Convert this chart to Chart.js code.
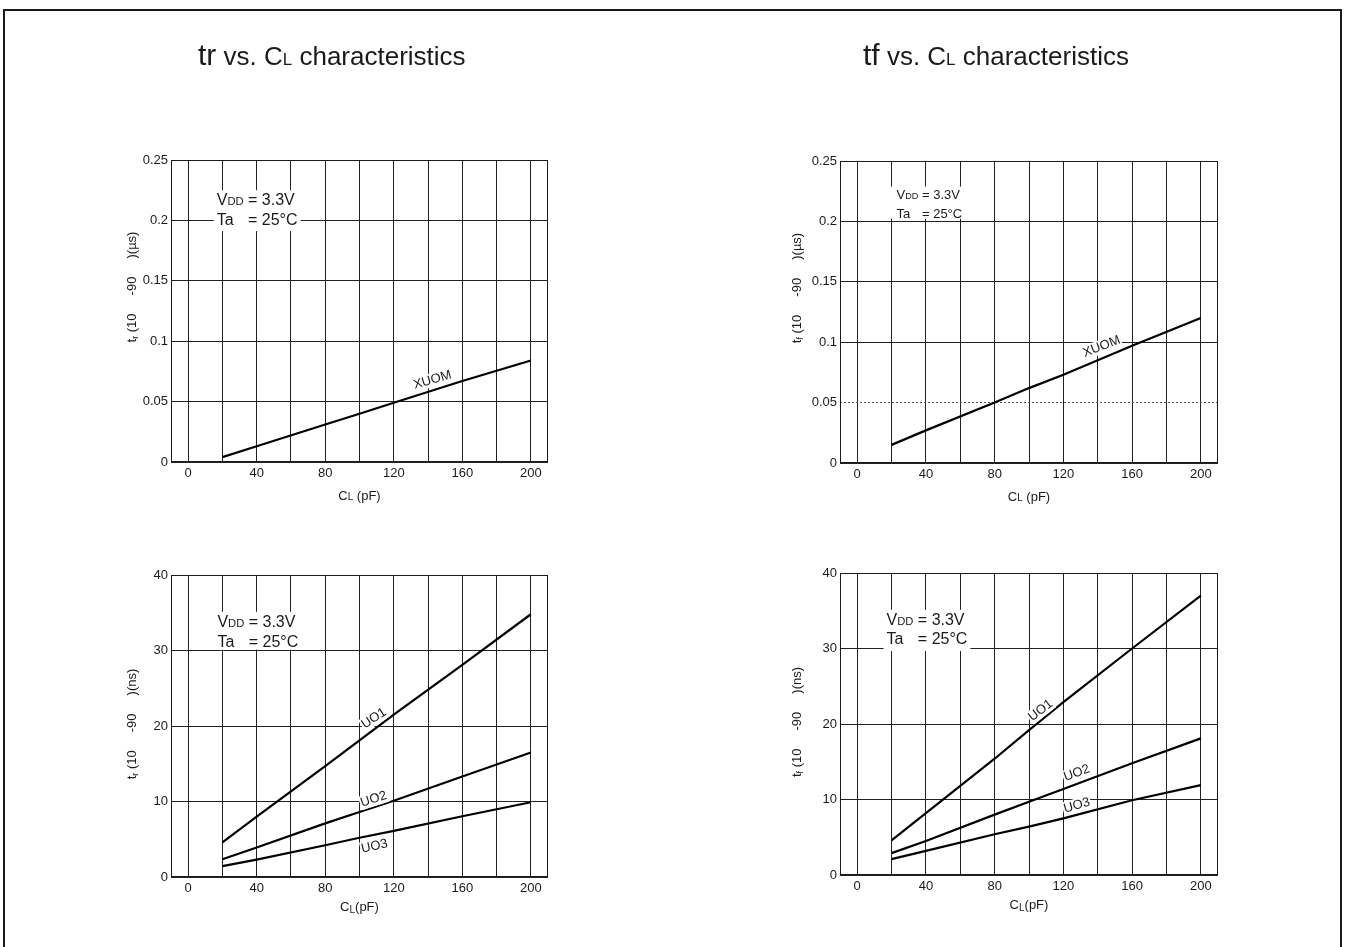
<!DOCTYPE html>
<html>
<head>
<meta charset="utf-8">
<title>tr / tf vs. CL characteristics</title>
<script src="https://cdn.jsdelivr.net/npm/chart.js@4.4.1/dist/chart.umd.min.js"></script>
<style>
  body { margin: 0; background: #fff; width: 1348px; height: 947px; overflow: hidden; position: relative; }
  .sheet { position: absolute; left: 3px; top: 9px; width: 1335px; height: 980px; border: 2px solid #1a1a1a; }
  canvas { position: absolute; }
</style>
</head>
<body>
<div class="sheet"></div>
<canvas id="riseUs" width="470" height="500" style="left:100px;top:20px"></canvas>
<canvas id="fallUs" width="470" height="500" style="left:770px;top:20px"></canvas>
<canvas id="riseNs" width="470" height="400" style="left:100px;top:540px"></canvas>
<canvas id="fallNs" width="470" height="400" style="left:770px;top:540px"></canvas>
<script>
// Load capacitance CL (pF)
const capLoad = [20, 40, 80, 100, 120, 160, 200];

// Rise / fall time of the XUOM output (µs)
const riseXuom = [0.004, 0.013, 0.031, 0.040, 0.049, 0.067, 0.084];
const fallXuom = [0.015, 0.027, 0.050, 0.062, 0.073, 0.097, 0.120];

// Rise time of UO1..UO3 (ns)
const riseUo1 = [4.6, 8.0, 14.7, 18.1, 21.5, 28.1, 34.8];
const riseUo2 = [2.35, 3.9, 7.1, 8.6, 10.1, 13.3, 16.5];
const riseUo3 = [1.45, 2.3, 4.2, 5.2, 6.1, 8.05, 9.9];

// Fall time of UO1..UO3 (ns)
const fallUo1 = [4.6, 8.2, 15.4, 19.2, 22.9, 30.0, 37.0];
const fallUo2 = [2.9, 4.5, 8.0, 9.7, 11.4, 14.8, 18.1];
const fallUo3 = [2.1, 3.2, 5.4, 6.4, 7.5, 9.9, 11.9];

// Axis ticks
const xGrid = [0, 20, 40, 60, 80, 100, 120, 140, 160, 180, 200];
const xLabels = [0, 40, 80, 120, 160, 200];
const usTicks = [0, 0.05, 0.1, 0.15, 0.2, 0.25];
const nsTicks = [0, 10, 20, 30, 40];

const FONT = '"Liberation Sans", Arial, sans-serif';
const INK = '#1a1a1a';
const GRID = '#222';

function seg(t, s, dy) {
  return { t: t, s: s, dy: dy || 0 };
}

function richWidth(ctx, segs) {
  let w = 0;
  segs.forEach(g => {
    ctx.font = `${g.s}px ${FONT}`;
    w += ctx.measureText(g.t).width;
  });
  return w;
}

function drawRich(ctx, segs, x, y) {
  segs.forEach(g => {
    ctx.font = `${g.s}px ${FONT}`;
    ctx.fillText(g.t, x, y + g.dy);
    x += ctx.measureText(g.t).width;
  });
  return x;
}

// Frame, axis titles, condition note and curve names
const decor = {
  id: 'decor',
  afterDatasetsDraw(chart, args, o) {
    const { ctx, chartArea: a, scales: { x, y } } = chart;
    ctx.save();
    ctx.fillStyle = INK;
    ctx.textBaseline = 'alphabetic';

    // VDD / Ta note with a white box behind it
    const n = o.note;
    if (n) {
      const x0 = x.getPixelForValue(n.x);
      const b1 = y.getPixelForValue(n.y);
      const b2 = b1 + n.lh;
      const head = [seg('V', n.size), seg('DD', n.size * 0.7), seg(' ', n.size)];
      const eqX = x0 + richWidth(ctx, head);
      const w1 = richWidth(ctx, head.concat([seg('= 3.3V', n.size)]));
      ctx.font = `${n.size}px ${FONT}`;
      const w2 = eqX - x0 + ctx.measureText('= 25°C').width;
      const right = x0 + Math.max(w1, w2);
      ctx.fillStyle = '#fff';
      ctx.fillRect(x0 - n.padLeft, b1 - n.size * 0.8 - 2, right - x0 + n.padLeft + 3, b2 - b1 + n.size * 0.8 + 2 + n.pad);
      ctx.fillStyle = INK;
      drawRich(ctx, head.concat([seg('= 3.3V', n.size)]), x0, b1);
      ctx.font = `${n.size}px ${FONT}`;
      ctx.fillText('Ta', x0, b2);
      ctx.fillText('= 25°C', eqX, b2);
    }

    // curve names along the lines
    (o.tags || []).forEach(t => {
      const px = x.getPixelForValue(t.x);
      const py = y.getPixelForValue(t.y);
      ctx.save();
      ctx.translate(px, py);
      ctx.rotate(t.rot * Math.PI / 180);
      ctx.font = `13px ${FONT}`;
      const w = ctx.measureText(t.text).width;
      ctx.fillStyle = '#fff';
      ctx.fillRect(-w / 2 - 1, -7, w + 2, 14);
      ctx.fillStyle = INK;
      ctx.textAlign = 'center';
      ctx.textBaseline = 'middle';
      ctx.fillText(t.text, 0, 0);
      ctx.restore();
    });
    ctx.restore();
  },
  afterDraw(chart, args, o) {
    const { ctx, chartArea: a } = chart;
    ctx.save();
    ctx.strokeStyle = INK;
    ctx.lineWidth = 1;
    ctx.strokeRect(Math.round(a.left) + 0.5, Math.round(a.top) + 0.5,
      Math.round(a.right - a.left) - 1, Math.round(a.bottom - a.top) - 1);

    ctx.fillStyle = INK;
    ctx.textBaseline = 'alphabetic';

    // x axis title
    const xs = o.xTitle;
    ctx.font = `13px ${FONT}`;
    const xw = richWidth(ctx, xs.segs);
    drawRich(ctx, xs.segs, (a.left + a.right) / 2 - xw / 2, a.bottom + xs.gap);

    // y axis title, rotated
    const ys = o.yTitle;
    const yw = richWidth(ctx, ys.segs);
    ctx.save();
    ctx.translate(a.left + ys.dx, (a.top + a.bottom) / 2 + ys.dy);
    ctx.rotate(-Math.PI / 2);
    drawRich(ctx, ys.segs, -yw / 2, 4);
    ctx.restore();

    // page heading above the top charts
    if (o.heading) {
      drawRich(ctx, o.heading.segs, o.heading.x, o.heading.y);
    }
    ctx.restore();
  }
};

function lineSet(values) {
  return {
    data: capLoad.map((c, i) => ({ x: c, y: values[i] })),
    borderColor: '#000',
    borderWidth: 2.2,
    pointRadius: 0,
    tension: 0,
    fill: false
  };
}

function makeChart(id, cfg) {
  const yTicks = cfg.yTicks;
  return new Chart(document.getElementById(id), {
    type: 'line',
    data: { datasets: cfg.series.map(lineSet) },
    plugins: [decor],
    options: {
      responsive: false,
      animation: false,
      events: [],
      layout: { padding: { left: 0, right: 22, top: cfg.padTop, bottom: cfg.padBottom } },
      scales: {
        x: {
          type: 'linear',
          min: -10,
          max: 210,
          afterBuildTicks: s => { s.ticks = xGrid.map(v => ({ value: v })); },
          afterFit: s => { s.height = 30; },
          grid: { color: GRID, lineWidth: 1, drawTicks: false },
          border: { display: false },
          ticks: {
            padding: 4,
            color: INK,
            autoSkip: false,
            maxRotation: 0,
            font: { family: FONT, size: 13 },
            callback: v => xLabels.includes(v) ? String(v) : ''
          }
        },
        y: {
          type: 'linear',
          min: yTicks[0],
          max: yTicks[yTicks.length - 1],
          afterBuildTicks: s => { s.ticks = yTicks.map(v => ({ value: v })); },
          afterFit: s => { s.width = cfg.yWidth; },
          grid: {
            color: c => (c.tick && c.tick.value === cfg.dashAt) ? '#555' : GRID,
            lineWidth: 1,
            drawTicks: false
          },
          border: {
            display: false,
            dash: c => (c.tick && c.tick.value === cfg.dashAt) ? [2, 2] : []
          },
          ticks: {
            padding: 3,
            color: INK,
            font: { family: FONT, size: 13 },
            callback: v => String(v)
          }
        }
      },
      plugins: {
        legend: { display: false },
        tooltip: { enabled: false },
        decor: {
          note: cfg.note,
          tags: cfg.tags,
          xTitle: cfg.xTitle,
          yTitle: cfg.yTitle,
          heading: cfg.heading
        }
      }
    }
  });
}

function yTitleSegs(sub, unit) {
  return [seg('t', 13), seg(sub, 9, 2), seg(' (10     -90     )(' + unit + ')', 13)];
}

const xTitleTop = { segs: [seg('C', 13), seg('L', 10), seg(' (pF)', 13)], gap: 38 };
const xTitleBottom = { segs: [seg('C', 13), seg('L', 10, 2), seg('(pF)', 13)], gap: 34 };

makeChart('riseUs', {
  series: [riseXuom],
  yTicks: usTicks,
  yWidth: 71, padTop: 140, padBottom: 28,
  note: { x: 16.7, y: 0.2127, size: 16, lh: 20, pad: 6, padLeft: 3 },
  tags: [{ text: 'XUOM', x: 142.6, y: 0.0679, rot: -16 }],
  xTitle: xTitleTop,
  yTitle: { segs: yTitleSegs('r', 'µs'), dx: -39, dy: -24 },
  heading: { x: 98, y: 45, segs: [seg('tr', 30), seg(' vs. C', 26), seg('L', 17), seg(' characteristics', 26)] }
});

makeChart('fallUs', {
  series: [fallXuom],
  yTicks: usTicks,
  dashAt: 0.05,
  yWidth: 70, padTop: 141, padBottom: 27,
  note: { x: 22.9, y: 0.2186, size: 13, lh: 18.7, pad: 1, padLeft: 7 },
  tags: [{ text: 'XUOM', x: 142.3, y: 0.0964, rot: -21 }],
  xTitle: xTitleTop,
  yTitle: { segs: yTitleSegs('f', 'µs'), dx: -43, dy: -24 },
  heading: { x: 93, y: 45, segs: [seg('tf', 30), seg(' vs. C', 26), seg('L', 17), seg(' characteristics', 26)] }
});

makeChart('riseNs', {
  series: [riseUo1, riseUo2, riseUo3],
  yTicks: nsTicks,
  yWidth: 71, padTop: 35, padBottom: 33,
  note: { x: 17.1, y: 33.16, size: 16, lh: 20, pad: 3, padLeft: 3 },
  tags: [
    { text: 'UO1', x: 108.4, y: 21.0, rot: -33 },
    { text: 'UO2', x: 108.3, y: 10.3, rot: -18 },
    { text: 'UO3', x: 108.8, y: 4.07, rot: -13 }
  ],
  xTitle: xTitleBottom,
  yTitle: { segs: yTitleSegs('r', 'ns'), dx: -39, dy: -2 }
});

makeChart('fallNs', {
  series: [fallUo1, fallUo2, fallUo3],
  yTicks: nsTicks,
  yWidth: 70, padTop: 33, padBottom: 35,
  note: { x: 17.1, y: 33.16, size: 16, lh: 19.3, pad: 7, padLeft: 3 },
  tags: [
    { text: 'UO1', x: 106.8, y: 21.8, rot: -38 },
    { text: 'UO2', x: 127.8, y: 13.5, rot: -20 },
    { text: 'UO3', x: 127.8, y: 9.2, rot: -16 }
  ],
  xTitle: xTitleBottom,
  yTitle: { segs: yTitleSegs('f', 'ns'), dx: -43, dy: -2 }
});
</script>
</body>
</html>
